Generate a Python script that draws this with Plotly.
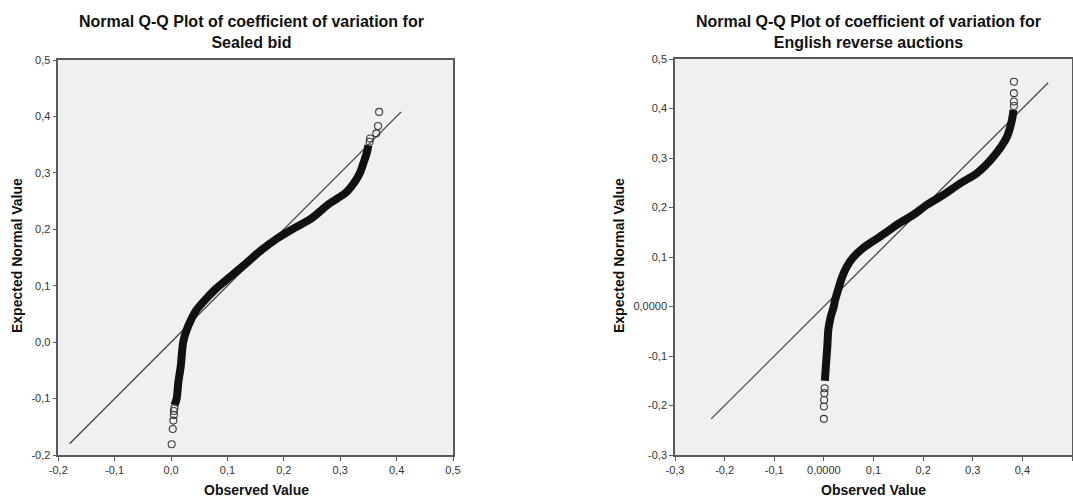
import plotly.graph_objects as go

# ---------------- data ----------------
# Sealed bid: dense part of the Q-Q cloud (observed, expected)
sb_band_obs = [0.006, 0.0099, 0.013, 0.017, 0.0215, 0.027, 0.035, 0.045, 0.060, 0.080, 0.100,
               0.130, 0.160, 0.190, 0.220, 0.250, 0.280, 0.310, 0.325, 0.335, 0.341, 0.347, 0.350]
sb_band_exp = [-0.112, -0.100, -0.070, -0.044, 0.000, 0.020, 0.039, 0.057, 0.0745, 0.095, 0.112,
               0.137, 0.163, 0.185, 0.203, 0.220, 0.245, 0.265, 0.283, 0.300, 0.317, 0.335, 0.349]
# Sealed bid: isolated points at the tails
sb_tail_obs = [0.001, 0.003, 0.004, 0.005, 0.005, 0.006, 0.352, 0.353, 0.364, 0.367, 0.369]
sb_tail_exp = [-0.181, -0.154, -0.139, -0.129, -0.122, -0.117, 0.355, 0.361, 0.370, 0.383, 0.408]
sb_ref_line = [-0.18, 0.408]

# English reverse auctions: dense part
era_band_obs = [0.002, 0.004, 0.007, 0.009, 0.014, 0.020, 0.0226, 0.030, 0.037, 0.046, 0.058,
                0.080, 0.113, 0.147, 0.180, 0.207, 0.240, 0.275, 0.308, 0.342, 0.369, 0.379, 0.382]
era_band_exp = [-0.150, -0.120, -0.080, -0.047, -0.020, 0.000, 0.013, 0.038, 0.060, 0.080, 0.098,
                0.119, 0.141, 0.165, 0.185, 0.205, 0.225, 0.249, 0.269, 0.303, 0.343, 0.377, 0.397]
era_tail_obs = [0.000, 0.000, 0.0005, 0.001, 0.0015, 0.383, 0.383, 0.383, 0.383]
era_tail_exp = [-0.227, -0.202, -0.189, -0.175, -0.165, 0.405, 0.414, 0.431, 0.454]
era_ref_line = [-0.227, 0.452]

# tick labels
sb_tick_vals = [-0.2, -0.1, 0.0, 0.1, 0.2, 0.3, 0.4, 0.5]
sb_tick_text = ["-0,2", "-0,1", "0,0", "0,1", "0,2", "0,3", "0,4", "0,5"]
era_tick_vals = [-0.3, -0.2, -0.1, 0.0, 0.1, 0.2, 0.3, 0.4, 0.5]
era_tick_text = ["-0,3", "-0,2", "-0,1", "0,0000", "0,1", "0,2", "0,3", "0,4", "0,5"]

titles = ["Normal Q-Q Plot of coefficient of variation for<br>Sealed bid",
          "Normal Q-Q Plot of coefficient of variation for<br>English reverse auctions"]
x_title = "Observed Value"
y_title = "Expected Normal Value"

# ---------------- figure ----------------
W, H = 1073, 497
FONT = "Liberation Sans, Arial, sans-serif"
BAND_COLOR = "#111111"
MARK_COLOR = "#3a3a3a"

fig = go.Figure()

def add_panel(xa, ya, band_x, band_y, tail_x, tail_y, ref):
    fig.add_trace(go.Scatter(x=ref, y=ref, mode="lines", xaxis=xa, yaxis=ya,
                             line=dict(color="#3c3c3c", width=1.2), showlegend=False,
                             hoverinfo="skip"))
    fig.add_trace(go.Scatter(x=band_x, y=band_y, mode="lines", xaxis=xa, yaxis=ya,
                             line=dict(color=BAND_COLOR, width=8, shape="spline", smoothing=0.8),
                             showlegend=False))
    fig.add_trace(go.Scatter(x=tail_x, y=tail_y, mode="markers", xaxis=xa, yaxis=ya,
                             marker=dict(symbol="circle-open", size=7, color=MARK_COLOR,
                                         line=dict(color=MARK_COLOR, width=1.1)),
                             showlegend=False))

add_panel("x", "y", sb_band_obs, sb_band_exp, sb_tail_obs, sb_tail_exp, sb_ref_line)
add_panel("x2", "y2", era_band_obs, era_band_exp, era_tail_obs, era_tail_exp, era_ref_line)

def px_x(p):
    return p / W

def px_y(p):
    return 1 - p / H

axis_common = dict(showgrid=False, zeroline=False, showline=True, mirror=True,
                   linecolor="#5a5a5a", linewidth=1.5, ticks="outside", ticklen=4,
                   tickcolor="#5a5a5a", tickwidth=1, automargin=False,
                   tickfont=dict(family=FONT, size=11, color="#333333"))

fig.update_layout(
    template="none",
    width=W, height=H,
    margin=dict(l=0, r=0, t=0, b=0, autoexpand=False),
    paper_bgcolor="white",
    plot_bgcolor="#f0f0f0",
    showlegend=False,
    xaxis=dict(domain=[px_x(58.3), px_x(453)], range=[-0.2, 0.5], anchor="y",
               tickvals=sb_tick_vals, ticktext=sb_tick_text, **axis_common),
    yaxis=dict(domain=[px_y(455), px_y(60)], range=[-0.2, 0.5], anchor="x",
               tickvals=sb_tick_vals, ticktext=sb_tick_text, **axis_common),
    xaxis2=dict(domain=[px_x(675), px_x(1072)], range=[-0.3, 0.5], anchor="y2",
                tickvals=era_tick_vals, ticktext=era_tick_text, **axis_common),
    yaxis2=dict(domain=[px_y(455), px_y(59)], range=[-0.3, 0.5], anchor="x2",
                tickvals=era_tick_vals, ticktext=era_tick_text, **axis_common),
)

ann = []
for cx, t in zip([252, 868], titles):
    ann.append(dict(text="<b>" + t + "</b>", x=px_x(cx), y=px_y(32), xref="paper", yref="paper",
                    xanchor="center", yanchor="middle", showarrow=False,
                    font=dict(family=FONT, size=16, color="#111111")))
for cx in [256, 873]:
    ann.append(dict(text="<b>" + x_title + "</b>", x=px_x(cx), y=px_y(490), xref="paper",
                    yref="paper", xanchor="center", yanchor="middle", showarrow=False,
                    font=dict(family=FONT, size=14, color="#111111")))
for cx in [17, 619]:
    ann.append(dict(text="<b>" + y_title + "</b>", x=px_x(cx), y=px_y(256), xref="paper",
                    yref="paper", xanchor="center", yanchor="middle", showarrow=False,
                    textangle=-90, font=dict(family=FONT, size=14, color="#111111")))
fig.update_layout(annotations=ann)

fig.write_html("out.html", config={"displayModeBar": False},
               post_script="document.body.style.margin='0';")
